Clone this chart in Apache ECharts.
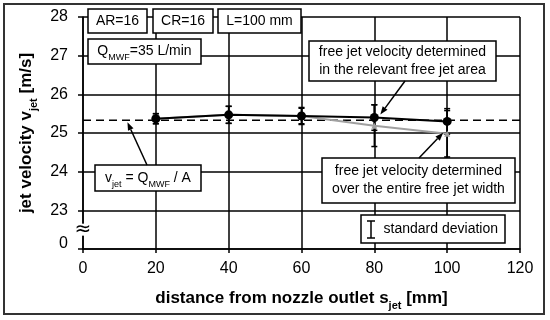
<!DOCTYPE html>
<html>
<head>
<meta charset="utf-8">
<script src="https://cdn.jsdelivr.net/npm/echarts@6/dist/echarts.min.js"></script>
<style>html,body{margin:0;padding:0;background:#fff;}#c{width:550px;height:320px;}</style>
</head>
<body>
<div id="c"></div>
<script>
// ---- data ----
const distances = [20, 40, 60, 80, 100];
const velRelevant = [25.37, 25.47, 25.44, 25.40, 25.30];
const sdRelevant = [0.13, 0.22, 0.20, 0.33, 0.33];
const velEntire = [25.37, 25.47, 25.44, 25.19, 24.98];
const sdEntire = [0.13, 0.22, 0.22, 0.54, 0.60];
const velTheory = 25.33;
const xTicks = [0, 20, 40, 60, 80, 100, 120];
const yTicks = [22, 23, 24, 25, 26, 27, 28];
const yTickLabels = ['0', '23', '24', '25', '26', '27', '28'];

const FONT = "'Liberation Sans', Arial, sans-serif";
const chart = echarts.init(document.getElementById('c'), null, {renderer: 'canvas'});

function errSeries(name, vals, sds, color) {
  return {
    name: name, type: 'custom', z: 5,
    data: distances.map((d, i) => [d, vals[i] - sds[i], vals[i] + sds[i]]),
    renderItem: function (params, api) {
      const lo = api.coord([api.value(0), api.value(1)]);
      const hi = api.coord([api.value(0), api.value(2)]);
      const w = 3;
      const st = {stroke: color, lineWidth: 1.5};
      return {type: 'group', children: [
        {type: 'line', shape: {x1: lo[0], y1: lo[1], x2: hi[0], y2: hi[1]}, style: st},
        {type: 'line', shape: {x1: lo[0] - w, y1: lo[1], x2: lo[0] + w, y2: lo[1]}, style: st},
        {type: 'line', shape: {x1: hi[0] - w, y1: hi[1], x2: hi[0] + w, y2: hi[1]}, style: st}
      ]};
    }
  };
}

const subRich = {
  b: {fontFamily: FONT, fontSize: 17, fontWeight: 'bold', color: '#000', lineHeight: 22},
  s: {fontFamily: FONT, fontSize: 11, fontWeight: 'bold', color: '#000', lineHeight: 22, verticalAlign: 'bottom', padding: [0, 0, -2, 0]}
};

chart.setOption({
  animation: false,
  backgroundColor: '#fff',
  grid: {left: 83, right: 30, top: 17, bottom: 71},
  xAxis: {
    type: 'value', min: xTicks[0], max: xTicks[xTicks.length - 1], interval: 20,
    axisLine: {show: true, lineStyle: {color: '#000', width: 1.5}},
    axisTick: {show: true, length: 4, lineStyle: {color: '#000', width: 1.5}},
    axisLabel: {color: '#000', fontSize: 16, fontFamily: FONT, margin: 12},
    splitLine: {show: true, lineStyle: {color: '#000', width: 1.5}},
    name: '{b|distance from nozzle outlet s}{s|jet}{b| [mm]}',
    nameLocation: 'middle', nameGap: 38,
    nameTextStyle: {rich: subRich}
  },
  yAxis: {
    type: 'value', min: yTicks[0], max: yTicks[yTicks.length - 1], interval: 1,
    axisLine: {show: true, lineStyle: {color: '#000', width: 1.5}},
    axisTick: {show: true, length: 5, lineStyle: {color: '#000', width: 1.5}},
    axisLabel: {color: '#000', fontSize: 16, fontFamily: FONT, margin: 15,
      formatter: v => v === yTicks[0] ? '{z|' + yTickLabels[0] + '}' : yTickLabels[yTicks.indexOf(v)],
      rich: {z: {fontSize: 16, fontFamily: FONT, color: '#000', padding: [0, 0, 10, 0]}}},
    splitLine: {show: true, lineStyle: {color: '#000', width: 1.5}},
    name: '{b|jet velocity v}{s|jet}{b| [m/s]}',
    nameLocation: 'middle', nameGap: 45, nameRotate: 90,
    nameTextStyle: {rich: subRich}
  },
  series: [
    {
      name: 'theory', type: 'line', z: 3, symbol: 'none',
      data: [[xTicks[0], velTheory], [xTicks[xTicks.length - 1], velTheory]],
      lineStyle: {color: '#000', width: 1.5, type: [8, 5]}
    },
    errSeries('errEntire', velEntire, sdEntire, '#000'),
    {
      name: 'entire', type: 'line', z: 6, symbol: 'triangle', symbolSize: 6,
      data: distances.map((d, i) => [d, velEntire[i]]),
      lineStyle: {color: '#a0a0a0', width: 2},
      itemStyle: {color: '#a0a0a0'}
    },
    errSeries('errRelevant', velRelevant, sdRelevant, '#000'),
    {
      name: 'relevant', type: 'line', z: 7, symbol: 'circle', symbolSize: 9,
      data: distances.map((d, i) => [d, velRelevant[i]]),
      lineStyle: {color: '#000', width: 2},
      itemStyle: {color: '#000'}
    }
  ]
});

// ---- annotations ----
function box(x1, y1, x2, y2, rich, text) {
  return {
    type: 'group', z: 100, children: [
      {type: 'rect', z: 100, shape: {x: x1, y: y1, width: x2 - x1, height: y2 - y1},
        style: {fill: '#fff', stroke: '#000', lineWidth: 1.5}},
      {type: 'text', z: 101, x: (x1 + x2) / 2, y: (y1 + y2) / 2,
        style: {text: text, rich: rich, align: 'center', verticalAlign: 'middle',
          fontFamily: FONT, fontSize: 14, fill: '#000', lineHeight: 18}}
    ]
  };
}
function arrow(x1, y1, x2, y2) {
  const a = Math.atan2(y2 - y1, x2 - x1);
  const L = 8, W = 3;
  const bx = x2 - L * Math.cos(a), by = y2 - L * Math.sin(a);
  const px = -Math.sin(a) * W, py = Math.cos(a) * W;
  return {
    type: 'group', z: 110, children: [
      {type: 'line', z: 110, shape: {x1: x1, y1: y1, x2: bx, y2: by}, style: {stroke: '#000', lineWidth: 1.5}},
      {type: 'polygon', z: 110, shape: {points: [[x2, y2], [bx + px, by + py], [bx - px, by - py]]}, style: {fill: '#000'}}
    ]
  };
}
const tr = {
  n: {fontFamily: FONT, fontSize: 14, color: '#000', lineHeight: 18},
  s: {fontFamily: FONT, fontSize: 9, color: '#000', lineHeight: 18, verticalAlign: 'bottom', padding: [0, 0, -2, 0]}
};

const p0 = chart.convertToPixel({gridIndex: 0}, [0, 22.5]);
const tipA = chart.convertToPixel({gridIndex: 0}, [12.2, velTheory]);
const tipB = chart.convertToPixel({gridIndex: 0}, [distances[3], velRelevant[3]]);
const tipC = chart.convertToPixel({gridIndex: 0}, [distances[4], velEntire[4]]);

chart.setOption({
  graphic: [
    {type: 'rect', z: 90, shape: {x: 4, y: 4, width: 540, height: 310}, style: {fill: 'none', stroke: '#333', lineWidth: 2}},
    {type: 'rect', z: 95, shape: {x: p0[0] - 6, y: p0[1] - 6, width: 12, height: 12}, style: {fill: '#fff'}},
    {type: 'text', z: 96, x: p0[0], y: p0[1], style: {text: '≈', fontSize: 20, fontFamily: 'DejaVu Sans', fill: '#000', align: 'center', verticalAlign: 'middle'}},
    box(88, 9, 147, 33, tr, '{n|AR=16}'),
    box(153, 9, 213, 33, tr, '{n|CR=16}'),
    box(218, 9, 301, 33, tr, '{n|L=100 mm}'),
    box(88, 39, 201, 64, tr, '{n|Q}{s|MWF}{n|=35 L/min}'),
    box(309, 41, 496, 81, tr, '{n|free jet velocity determined}\n{n|in the relevant free jet area}'),
    box(95, 165, 201, 191, tr, '{n|v}{s|jet}{n| = Q}{s|MWF}{n| / A}'),
    box(322, 158, 515, 203, tr, '{n|free jet velocity determined}\n{n|over the entire free jet width}'),
    box(361, 215, 505, 243, tr, '{n|    standard deviation}'),
    {type: 'group', z: 105, children: [
      {type: 'line', z: 105, shape: {x1: 371, y1: 221, x2: 371, y2: 238}, style: {stroke: '#000', lineWidth: 1.5}},
      {type: 'line', z: 105, shape: {x1: 367, y1: 221, x2: 375, y2: 221}, style: {stroke: '#000', lineWidth: 1.5}},
      {type: 'line', z: 105, shape: {x1: 367, y1: 238, x2: 375, y2: 238}, style: {stroke: '#000', lineWidth: 1.5}}
    ]},
    arrow(147, 165, tipA[0], tipA[1] + 2),
    arrow(405, 81, tipB[0] + 6, tipB[1] - 3),
    arrow(419, 158, tipC[0] - 4, tipC[1] - 1)
  ]
});
</script>
</body>
</html>
